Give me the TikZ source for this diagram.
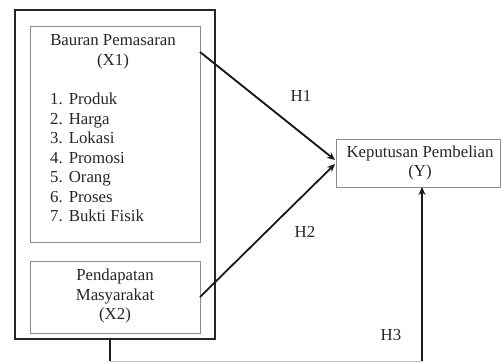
\documentclass[tikz,border=0pt]{standalone}
\usepackage{fontspec}
\setmainfont{Liberation Serif}
\usetikzlibrary{arrows.meta}
\begin{document}
\begin{tikzpicture}[x=1pt,y=-1pt,
  txt/.style={font=\fontsize{16.8}{19.5}\selectfont, inner sep=0pt, text=black!85},
  innerbox/.style={draw=black!45, line width=1.2pt},
  outerbox/.style={draw=black!85, line width=1.6pt},
  conn/.style={draw=black!90, line width=1.8pt},
  arr/.style={conn, -{Stealth[length=8pt,width=7pt]}}]
\useasboundingbox (0,0) rectangle (502,362);
% boxes
\draw[outerbox] (15,10) rectangle (215,339);
\node[innerbox, minimum width=170pt, minimum height=216pt, anchor=north west, inner sep=0pt] (x1) at (30,26) {};
\node[innerbox, minimum width=170pt, minimum height=72pt, anchor=north west, inner sep=0pt] (x2) at (30,261) {};
\node[innerbox, minimum width=164pt, minimum height=48pt, anchor=north west, inner sep=0pt] (y) at (336,139) {};
\coordinate (outerb) at (110,339);
% texts
\node[txt, align=center] (x1t) at (113,52) {Bauran Pemasaran\\(X1)};
\node[txt, anchor=north west] (list) at (50,91) {\begin{tabular}{@{}l@{\hspace{6pt}}l@{}}
1. & Produk\\
2. & Harga\\
3. & Lokasi\\
4. & Promosi\\
5. & Orang\\
6. & Proses\\
7. & Bukti Fisik
\end{tabular}};
\node[txt, align=center] (x2t) at (115,296) {Pendapatan\\Masyarakat\\(X2)};
\node[txt, align=center] (yt) at (420,163) {Keputusan Pembelian\\(Y)};
% connectors
\coordinate (x1s) at (200,52);
\coordinate (x2s) at (200,297);
\coordinate (ytip1) at (335,160);
\coordinate (ytip2) at (335,164);
\draw[arr] (x1s) -- (ytip1);
\draw[arr] (x2s) -- (ytip2);
\coordinate (c1) at (110,361);
\coordinate (c2) at (422,361);
\coordinate (ybot) at (422,187);
\draw[conn] (outerb) -- (c1);
\draw[draw=black!25, line width=1pt] (c1) -- (c2);
\draw[arr] (c2) -- (ybot);
% labels
\node[txt] (h1) at (301,96) {H1};
\node[txt] (h2) at (305,232) {H2};
\node[txt] (h3) at (391,335) {H3};
\end{tikzpicture}
\end{document}
